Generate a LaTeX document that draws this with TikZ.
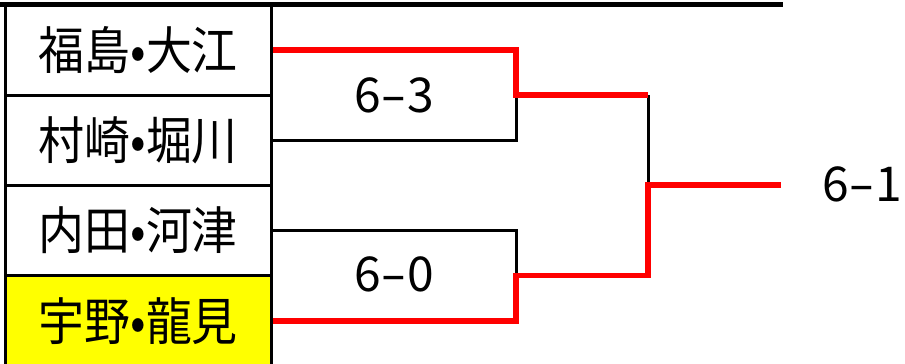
\documentclass[tikz,border=0pt]{standalone}
\usepackage{fontspec}
\setmainfont{Noto Sans CJK JP}
\newfontfamily\jpfont[FakeStretch=0.9]{Noto Sans CJK JP}
\newfontfamily\scorefont[LetterSpace=4]{Noto Sans CJK JP}
\definecolor{winred}{RGB}{255,0,0}
\definecolor{seedyellow}{RGB}{255,255,0}
\newcommand\widehyph{\scalebox{1.6}[1]{-}}
\begin{document}
\begin{tikzpicture}[x=1pt,y=-1pt,
  namebox/.style={draw=black,line width=3pt,minimum width=265.5pt,minimum height=90.5pt,inner sep=0pt,
    font=\jpfont\fontsize{51}{51}\selectfont,anchor=center},
  score/.style={inner sep=0pt,font=\scorefont\fontsize{48}{48}\selectfont},
  loseline/.style={draw=black,line width=3pt},
  winline/.style={draw=winred,line width=5.5pt},
  frameline/.style={draw=black,line width=5pt}]
\useasboundingbox (0,0) rectangle (905,364);
% team boxes
\node[namebox] (p1) at (138.25,50) {福島•大江};
\node[namebox] (p2) at (138.25,140.25) {村崎•堀川};
\node[namebox] (p3) at (138.25,230.5) {内田•河津};
\node[namebox,fill=seedyellow] (p4) at (138.25,320.75) {宇野•龍見};
% top frame line
\draw[frameline] (0,4.5) -- (783,4.5);
% junction coordinates
\coordinate (m1) at (516,95);
\coordinate (m2) at (516,275.5);
\coordinate (f1) at (648,185);
\coordinate (fin) at (781,185);
% losing lines
\draw[loseline] (p2.east) -| (m1);
\draw[loseline] (p3.east) -| (m2);
\draw[loseline] (m1 -| f1) -- (f1);
% winning lines
\draw[winline] (p1.east) -| (m1) -- (m1 -| f1);
\draw[winline] (p4.east) -| (m2) -- (m2 -| f1) -- (f1) -- (fin);
% scores
\node[score] (s1) at (394,95) {6\widehyph3};
\node[score] (s2) at (394,274) {6\widehyph0};
\node[score] (s3) at (862,184) {6\widehyph1};
\end{tikzpicture}
\end{document}
